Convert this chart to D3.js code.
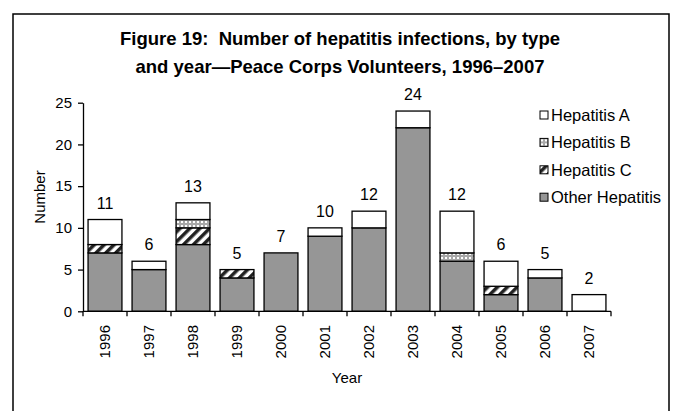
<!DOCTYPE html>
<html>
<head>
<meta charset="utf-8">
<script src="https://cdn.jsdelivr.net/npm/d3@7"></script>
<style>
  body { margin: 0; background: #fff; }
  text { font-family: "Liberation Sans", Arial, sans-serif; fill: #000; white-space: pre; }
</style>
</head>
<body>
<svg id="chart" width="674" height="411"></svg>
<script>
// chart data
var years = ['1996', '1997', '1998', '1999', '2000', '2001', '2002', '2003', '2004', '2005', '2006', '2007'];
var otherHep = [7, 5, 8, 4, 7, 9, 10, 22, 6, 2, 4, 0];
var hepC = [1, 0, 2, 1, 0, 0, 0, 0, 0, 1, 0, 0];
var hepB = [0, 0, 1, 0, 0, 0, 0, 0, 1, 0, 0, 0];
var hepA = [3, 1, 2, 0, 0, 1, 2, 2, 5, 3, 1, 2];
var yTicks = [0, 5, 10, 15, 20, 25];
var seriesNames = ['Other Hepatitis', 'Hepatitis C', 'Hepatitis B', 'Hepatitis A'];
var titleLines = ['Figure 19:  Number of hepatitis infections, by type', 'and year\u2014Peace Corps Volunteers, 1996\u20132007'];

var svg = d3.select('#chart');

// patterns
var defs = svg.append('defs');

var stripes = defs.append('pattern')
    .attr('id', 'patC')
    .attr('patternUnits', 'userSpaceOnUse')
    .attr('width', 7).attr('height', 7)
    .attr('patternTransform', 'rotate(45)');
stripes.append('rect').attr('width', 7).attr('height', 7).attr('fill', '#fff');
stripes.append('rect').attr('width', 3.5).attr('height', 7).attr('fill', '#222');

var dots = defs.append('pattern')
    .attr('id', 'patB')
    .attr('patternUnits', 'userSpaceOnUse')
    .attr('width', 4).attr('height', 4);
dots.append('rect').attr('width', 4).attr('height', 4).attr('fill', '#a8a8a8');
dots.append('rect').attr('x', 1).attr('y', 1).attr('width', 2).attr('height', 2).attr('fill', '#fff');

var fills = {
    'Other Hepatitis': '#969696',
    'Hepatitis C': 'url(#patC)',
    'Hepatitis B': 'url(#patB)',
    'Hepatitis A': '#fff'
};

// outer frame (open at the bottom)
svg.append('path')
    .attr('d', 'M13,411V14H669V411')
    .attr('fill', 'none')
    .attr('stroke', '#000')
    .attr('stroke-width', 1.5);

// title
svg.append('g').selectAll('text')
    .data(titleLines)
    .enter().append('text')
        .attr('x', 340)
        .attr('y', function(d, i){ return 45 + i * 27.5; })
        .attr('text-anchor', 'middle')
        .attr('font-size', 18.5)
        .attr('font-weight', 'bold')
        .text(function(d){ return d; });

// scales
var x = d3.scaleBand()
    .domain(years)
    .range([83, 611])
    .paddingInner(0.23)
    .paddingOuter(0.115);

var y = d3.scaleLinear()
    .domain([0, 25])
    .range([311.3, 102.7]);

// stacked data
var rows = years.map(function(yr, i){
    return {
        year: yr,
        'Other Hepatitis': otherHep[i],
        'Hepatitis C': hepC[i],
        'Hepatitis B': hepB[i],
        'Hepatitis A': hepA[i]
    };
});
var stacked = d3.stack().keys(seriesNames)(rows);

function total(d){
    return d['Other Hepatitis'] + d['Hepatitis C'] + d['Hepatitis B'] + d['Hepatitis A'];
}

// bars
svg.append('g').selectAll('g')
    .data(stacked)
    .enter().append('g')
        .attr('fill', function(d){ return fills[d.key]; })
        .selectAll('rect')
        .data(function(d){ return d.filter(function(s){ return s[1] > s[0]; }); })
        .enter().append('rect')
            .attr('x', function(d){ return x(d.data.year); })
            .attr('y', function(d){ return y(d[1]); })
            .attr('width', x.bandwidth())
            .attr('height', function(d){ return y(d[0]) - y(d[1]); })
            .attr('stroke', '#000')
            .attr('stroke-width', 1.3);

// totals above bars
svg.append('g').selectAll('text')
    .data(rows)
    .enter().append('text')
        .attr('x', function(d){ return x(d.year) + x.bandwidth() / 2; })
        .attr('y', function(d){ return y(total(d)) - 11; })
        .attr('text-anchor', 'middle')
        .attr('font-size', 16)
        .text(function(d){ return total(d); });

// y axis
var yAxis = svg.append('g')
    .attr('transform', 'translate(83,0)')
    .call(d3.axisLeft(y).tickValues(yTicks).tickSize(5).tickSizeOuter(0).tickPadding(6));
yAxis.selectAll('text').attr('font-size', 15).style('font-family', '"Liberation Sans", Arial, sans-serif');
yAxis.selectAll('line, path').attr('stroke', '#000').attr('stroke-width', 1.3);

// x axis: line, ticks between categories, rotated labels
var xAxis = svg.append('g');
xAxis.append('line')
    .attr('x1', 83).attr('x2', 611)
    .attr('y1', y(0)).attr('y2', y(0))
    .attr('stroke', '#000').attr('stroke-width', 1.3);
xAxis.selectAll('line.tick')
    .data(d3.range(years.length + 1))
    .enter().append('line')
        .attr('class', 'tick')
        .attr('x1', function(d){ return 83 + d * x.step(); })
        .attr('x2', function(d){ return 83 + d * x.step(); })
        .attr('y1', y(0)).attr('y2', y(0) + 5)
        .attr('stroke', '#000').attr('stroke-width', 1.3);
xAxis.selectAll('text')
    .data(years)
    .enter().append('text')
        .attr('transform', function(d){ return 'translate(' + (x(d) + x.bandwidth() / 2) + ',' + 325 + ') rotate(-90)'; })
        .attr('text-anchor', 'end')
        .attr('dy', '0.35em')
        .attr('font-size', 15)
        .text(function(d){ return d; });

// axis titles
svg.append('text')
    .attr('x', 347).attr('y', 383)
    .attr('text-anchor', 'middle')
    .attr('font-size', 15)
    .text('Year');

svg.append('text')
    .attr('transform', 'translate(40,197) rotate(-90)')
    .attr('text-anchor', 'middle')
    .attr('dy', '0.35em')
    .attr('font-size', 15)
    .text('Number');

// legend
var legendOrder = ['Hepatitis A', 'Hepatitis B', 'Hepatitis C', 'Other Hepatitis'];
var legend = svg.append('g').selectAll('g')
    .data(legendOrder)
    .enter().append('g')
        .attr('transform', function(d, i){ return 'translate(540,' + (115 + i * 27.4) + ')'; });
legend.append('rect')
    .attr('x', 0).attr('y', -4)
    .attr('width', 8).attr('height', 8)
    .attr('fill', function(d){ return fills[d]; })
    .attr('stroke', '#000').attr('stroke-width', 1);
legend.append('text')
    .attr('x', 11).attr('dy', '0.35em')
    .attr('font-size', 16.5)
    .text(function(d){ return d; });
</script>
</body>
</html>
